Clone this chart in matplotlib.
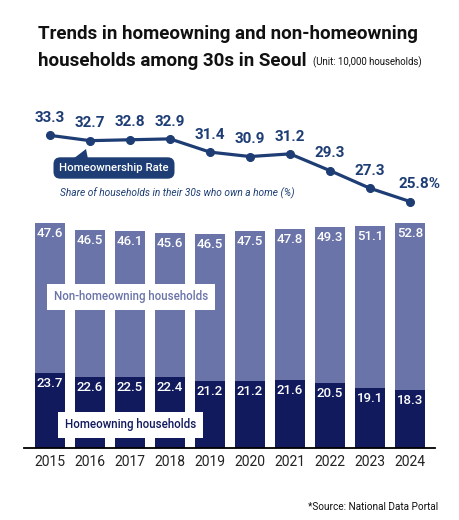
import matplotlib
matplotlib.use("Agg")
import matplotlib.pyplot as plt
from matplotlib.patches import Polygon

plt.rcParams["font.family"] = ["Roboto", "DejaVu Sans"]

years = ["2015", "2016", "2017", "2018", "2019", "2020", "2021", "2022", "2023", "2024"]
owning = [23.7, 22.6, 22.5, 22.4, 21.2, 21.2, 21.6, 20.5, 19.1, 18.3]
non_owning = [47.6, 46.5, 46.1, 45.6, 46.5, 47.5, 47.8, 49.3, 51.1, 52.8]
rate = [33.3, 32.7, 32.8, 32.9, 31.4, 30.9, 31.2, 29.3, 27.3, 25.8]

LIGHT = "#6b74a8"
DARK = "#111a5c"
LINE = "#1d3d74"

W, H = 460, 520


def fx(px):
    return px / W


def fy(py):
    return 1 - py / H


fig = plt.figure(figsize=(W / 100, H / 100), dpi=100)
fig.patch.set_facecolor("white")

# --- barres empilées ---
ax = fig.add_axes([fx(24), fy(448), fx(435) - fx(24), fy(211) - fy(448)])
x = list(range(len(years)))
ax.bar(x, owning, width=0.75, color=DARK)
ax.bar(x, non_owning, width=0.75, bottom=owning, color=LIGHT)
ax.set_xlim(-0.65, 9.625)
ax.set_ylim(0, 75)
for i in x:
    ax.annotate(f"{non_owning[i]}", (i, owning[i] + non_owning[i]), xytext=(0, -7.5),
                textcoords="offset points", ha="center", va="center",
                color="white", fontsize=9.5, fontweight="medium")
    ax.annotate(f"{owning[i]}", (i, owning[i]), xytext=(0, -7.5),
                textcoords="offset points", ha="center", va="center",
                color="white", fontsize=9.5, fontweight="medium")
ax.set_xticks(x)
ax.set_xticklabels(years, fontsize=10, color="#222222")
ax.tick_params(axis="x", length=0, pad=5)
ax.set_yticks([])
for s in ["top", "right", "left"]:
    ax.spines[s].set_visible(False)
ax.spines["bottom"].set_linewidth(1.3)
ax.patch.set_alpha(0)

ax.text(2.03, 47.8, "Non-homeowning households", ha="center", va="center",
        color=LIGHT, fontsize=8.3, fontweight="medium",
        bbox=dict(boxstyle="square,pad=0.6", fc="white", ec="none"))
ax.text(2.01, 7.3, "Homeowning households", ha="center", va="center",
        color=DARK, fontsize=8.3, fontweight="medium",
        bbox=dict(boxstyle="square,pad=0.6", fc="white", ec="none"))

# --- courbe du taux ---
ax2 = fig.add_axes([fx(24), fy(215), fx(435) - fx(24), fy(100) - fy(215)])
ax2.plot(x, rate, color=LINE, lw=2.3, marker="o", ms=5.5)
ax2.set_xlim(-0.65, 9.625)
ax2.set_ylim(24.27, 37.31)
ax2.axis("off")
for i in x:
    lab = f"{rate[i]}%" if i == len(x) - 1 else f"{rate[i]}"
    dx = 7 if i == len(x) - 1 else 0
    ax2.annotate(lab, (i, rate[i]), xytext=(dx, 12.5), textcoords="offset points",
                 ha="center", va="center", color=LINE, fontsize=11,
                 fontweight="bold")

# bulle
fig.text(fx(114), fy(168), "Homeownership Rate", ha="center", va="center",
         color="white", fontsize=8.2, fontweight="medium",
         bbox=dict(boxstyle="round,pad=0.5,rounding_size=0.6", fc=LINE, ec="none"))
fig.patches.append(Polygon([[fx(73), fy(159)], [fx(86), fy(149)], [fx(88), fy(159)]],
                           closed=True, transform=fig.transFigure, fc=LINE, ec="none"))
fig.text(fx(60), fy(193), "Share of households in their 30s who own a home (%)",
         ha="left", va="center", color=LINE, fontsize=7.3, style="italic")

# --- titres ---
fig.text(fx(38), fy(34), "Trends in homeowning and non-homeowning", ha="left",
         va="center", fontsize=13.5, fontweight="bold", color="#111111")
fig.text(fx(38), fy(61), "households among 30s in Seoul", ha="left",
         va="center", fontsize=13.5, fontweight="bold", color="#111111")
fig.text(fx(313), fy(62), "(Unit: 10,000 households)", ha="left", va="center",
         fontsize=6.9, color="#111111")

fig.text(fx(438), fy(507), "*Source: National Data Portal", ha="right", va="center",
         fontsize=7.2, color="#111111")

fig.savefig("out.png", dpi=100, facecolor="white")
